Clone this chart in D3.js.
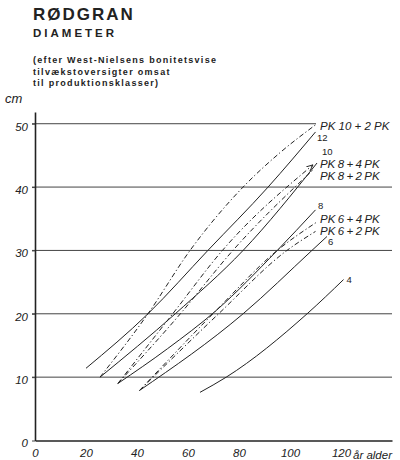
<!DOCTYPE html>
<html>
<head>
<meta charset="utf-8">
<script src="https://cdn.jsdelivr.net/npm/d3@7"></script>
<style>
  html, body { margin: 0; padding: 0; background: #fff; }
  svg { display: block; }
  text { font-family: "Liberation Sans", Arial, sans-serif; fill: #222; }
</style>
</head>
<body>
<svg id="chart" width="400" height="460"></svg>
<script>
// Age (years) and diameter (cm) along each growth curve
const pk12 = [[20, 11.4], [44.3, 20], [67.8, 30], [91.4, 40], [110, 48.7]];
const pk10 = [[25.5, 10], [55, 20], [81.6, 30], [110.6, 43.8]];
const pk8 = [[32.5, 9], [52, 14.5], [71, 20.5], [95, 30], [110, 36.4]];
const pk6 = [[41, 7.9], [81.6, 20], [108.6, 30], [114.5, 32.2]];
const pk4 = [[64.7, 7.6], [75, 10], [106.7, 20], [121, 25.4]];
const pk10plus2 = [[25.5, 10], [44.3, 20], [60.8, 30], [81.6, 40], [96, 45.4], [110.6, 50]];
const pk8plus4 = [[32.5, 9], [54, 20], [73.5, 30], [109, 43.5]];
const pk8plus2 = [[32.5, 9], [57, 20], [77.6, 30], [109, 42.7]];
const pk6plus4 = [[41, 7.9], [71, 20.5], [95, 30], [110.6, 34.5]];
const pk6plus2 = [[41, 7.9], [72, 20], [98.8, 30], [110, 33]];

const curveNames = ["12", "10", "8", "6", "4",
  "PK 10 + 2 PK", "PK 8 + 4 PK", "PK 8 + 2 PK", "PK 6 + 4 PK", "PK 6 + 2 PK"];
const curveData = [pk12, pk10, pk8, pk6, pk4, pk10plus2, pk8plus4, pk8plus2, pk6plus4, pk6plus2];

const yTicks = [0, 10, 20, 30, 40, 50];
const xTicks = [0, 20, 40, 60, 80, 100, 120];

const titleLines = ["RØDGRAN", "DIAMETER"];
const noteLines = ["(efter West-Nielsens bonitetsvise", "tilvækstoversigter omsat", "til produktionsklasser)"];

// Drawing styles per curve (solid for classes, dash-dot for the thinned variants)
// lx/ly: label offset in pixels from the curve's end point
const DASH = "5,2.5,1.2,2.5";
const styles = [
  { dash: null, lx: 1.5, ly: 9, size: 9.5, italic: false },
  { dash: null, lx: 5, ly: -8, size: 9.5, italic: false },
  { dash: null, lx: 2.5, ly: -1, size: 9.5, italic: false },
  { dash: null, lx: 1, ly: 8.5, size: 9.5, italic: false },
  { dash: null, lx: 3, ly: 3, size: 9.5, italic: false },
  { dash: DASH, lx: 3, ly: 6.3, size: 11.5, italic: true, arrow: false, ws: 0 },
  { dash: DASH, lx: 7, ly: 3.5, size: 11.5, italic: true, arrow: true, ws: -0.8 },
  { dash: DASH, lx: 7, ly: 10, size: 11.5, italic: true, arrow: false, ws: -0.8 },
  { dash: DASH, lx: 3, ly: 1.5, size: 11.5, italic: true, arrow: false, ws: -0.8 },
  { dash: DASH, lx: 4.5, ly: 4, size: 11.5, italic: true, arrow: false, ws: -0.8 }
];

const svg = d3.select("#chart");

const x = d3.scaleLinear().domain([0, 140]).range([35, 392]);
const y = d3.scaleLinear().domain([0, 51.85]).range([440.5, 112]);

// Header
svg.append("text").attr("x", 33).attr("y", 20)
  .attr("font-size", 17).attr("font-weight", "bold").attr("letter-spacing", 2)
  .text(titleLines[0]);
svg.append("text").attr("x", 33).attr("y", 37)
  .attr("font-size", 11.5).attr("font-weight", "bold").attr("letter-spacing", 3)
  .text(titleLines[1]);
svg.selectAll("text.note").data(noteLines).join("text")
  .attr("class", "note")
  .attr("x", 33).attr("y", (d, i) => 63 + i * 11.5)
  .attr("font-size", 9).attr("font-weight", "bold").attr("letter-spacing", 1.3)
  .text(d => d);

// Unit label
svg.append("text").attr("x", 5).attr("y", 103)
  .attr("font-size", 13).attr("font-style", "italic")
  .text("cm");

// Horizontal grid lines
const gridTicks = yTicks.filter(v => v > 0);
svg.append("g").selectAll("line").data(gridTicks).join("line")
  .attr("x1", x(0) - 3)
  .attr("x2", d => d === 50 ? 316 : x(140))
  .attr("y1", d => y(d)).attr("y2", d => y(d))
  .attr("stroke", "#444").attr("stroke-width", 1);

// Y axis
const yAxis = svg.append("g").attr("transform", `translate(${x(0)},0)`)
  .call(d3.axisLeft(y).tickValues(yTicks).tickSize(3).tickPadding(4).tickSizeOuter(0));
yAxis.select(".domain").attr("stroke", "#222").attr("stroke-width", 1.6);
yAxis.selectAll(".tick line").attr("stroke", "#444");
yAxis.selectAll(".tick text")
  .attr("font-family", "Liberation Sans, Arial, sans-serif")
  .attr("font-size", 11.5).attr("font-style", "italic").attr("fill", "#222")
  .attr("dy", "0.55em");

// X axis
const xAxis = svg.append("g").attr("transform", `translate(0,${y(0)})`)
  .call(d3.axisBottom(x).tickValues(xTicks).tickSize(0).tickPadding(8).tickSizeOuter(0));
xAxis.select(".domain").attr("stroke", "#222").attr("stroke-width", 1.4);
xAxis.selectAll(".tick text")
  .attr("font-family", "Liberation Sans, Arial, sans-serif")
  .attr("font-size", 11.5).attr("font-style", "italic").attr("fill", "#222");
svg.append("text").attr("x", x(120) + 12).attr("y", y(0) + 18)
  .attr("font-size", 11.5).attr("font-style", "italic")
  .text("år alder");

// Arrowhead marker
svg.append("defs").append("marker")
  .attr("id", "arrow").attr("viewBox", "0 0 10 10")
  .attr("refX", 9).attr("refY", 5)
  .attr("markerWidth", 7).attr("markerHeight", 7)
  .attr("orient", "auto")
  .append("path").attr("d", "M0,1 L9,5 L0,9").attr("fill", "none")
  .attr("stroke", "#222").attr("stroke-width", 1.3);

// Curves
const line = d3.line().x(d => x(d[0])).y(d => y(d[1])).curve(d3.curveMonotoneX);
const curves = svg.append("g");
curveData.forEach((pts, i) => {
  const st = styles[i];
  curves.append("path")
    .attr("d", line(pts))
    .attr("fill", "none")
    .attr("stroke", "#222")
    .attr("stroke-width", 1)
    .attr("stroke-dasharray", st.dash)
    .attr("marker-end", st.arrow ? "url(#arrow)" : null);
  const last = pts[pts.length - 1];
  curves.append("text")
    .attr("x", x(last[0]) + st.lx)
    .attr("y", y(last[1]) + st.ly)
    .attr("font-size", st.size)
    .attr("font-style", st.italic ? "italic" : "normal")
    .attr("word-spacing", st.ws || 0)
    .text(curveNames[i]);
});
</script>
</body>
</html>
